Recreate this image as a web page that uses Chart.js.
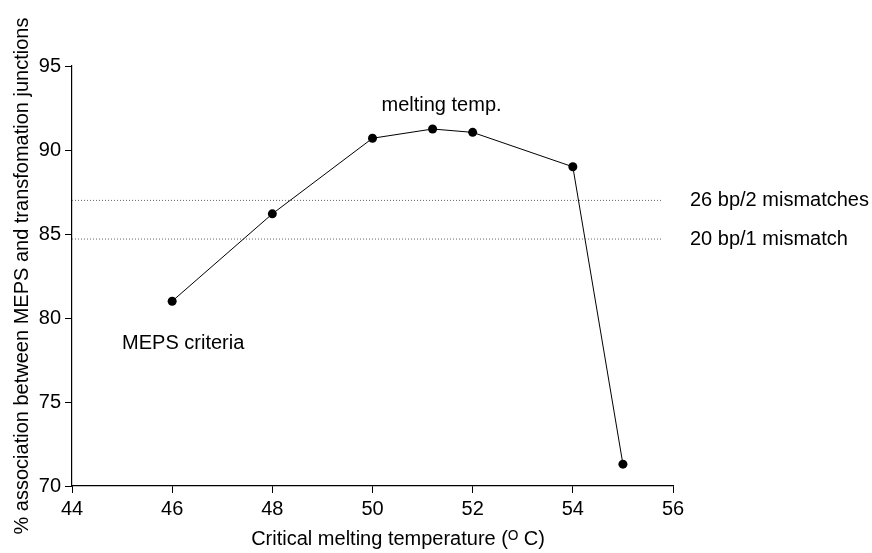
<!DOCTYPE html>
<html>
<head>
<meta charset="utf-8">
<script src="https://cdn.jsdelivr.net/npm/chart.js@4.4.1/dist/chart.umd.min.js"></script>
<style>
  html, body { margin: 0; padding: 0; background: #fff; }
  #wrap { width: 872px; height: 553px; position: relative; }
</style>
</head>
<body>
<div id="wrap"><canvas id="meltChart"></canvas></div>
<script>
// Critical melting temperature (C) vs % association
const temps = [46, 48, 50, 51.2, 52, 54, 55];
const association = [81.0, 86.2, 90.7, 91.25, 91.05, 89.0, 71.3];

// dotted reference levels and their labels
const refLevels = [87.0, 84.7];
const refLabels = ["26 bp/2 mismatches", "20 bp/1 mismatch"];
const refEnd = 55.8;

// tick values
const xTicks = [44, 46, 48, 50, 52, 54, 56];
const yTicks = [70, 75, 80, 85, 90, 95];

const xTitle = "Critical melting temperature (\u1D3C C)";
const yTitle = "% association between MEPS and transfomation junctions";

// free notes: text, x value, y value
const noteTexts = ["melting temp.", "MEPS criteria"];
const noteX = [50.18, 45.0];
const noteY = [92.65, 78.5];

const FONT = '"Liberation Sans", Arial, Helvetica, sans-serif';

const mainSet = {
  data: temps.map((t, i) => ({ x: t, y: association[i] })),
  showLine: true,
  borderColor: "#000",
  borderWidth: 1,
  backgroundColor: "#000",
  pointRadius: 4.5,
  pointBorderWidth: 0,
  tension: 0
};

const refSets = refLevels.map(v => ({
  data: [{ x: xTicks[0], y: v }, { x: refEnd, y: v }],
  showLine: true,
  borderColor: "#666",
  borderWidth: 1,
  borderDash: [1, 2],
  pointRadius: 0
}));

// text drawn on top: notes, reference labels, axis titles
const textPlugin = {
  id: "textNotes",
  afterDraw(chart) {
    const { ctx, chartArea } = chart;
    const x = chart.scales.x, y = chart.scales.y;
    ctx.save();
    ctx.fillStyle = "#000";
    ctx.font = "20px " + FONT;
    ctx.textBaseline = "middle";
    ctx.textAlign = "left";
    noteTexts.forEach((t, i) => {
      ctx.fillText(t, x.getPixelForValue(noteX[i]), y.getPixelForValue(noteY[i]));
    });
    refLevels.forEach((v, i) => {
      ctx.fillText(refLabels[i], chartArea.right + 17, y.getPixelForValue(v));
    });
    ctx.textAlign = "center";
    ctx.fillText(xTitle, 398, 539);
    ctx.translate(22, (chartArea.top + chartArea.bottom) / 2);
    ctx.rotate(-Math.PI / 2);
    ctx.fillText(yTitle, 0, 0);
    ctx.restore();
  }
};

const axisStyle = {
  grid: { display: true, drawOnChartArea: false, drawTicks: true, tickLength: 7, color: "#000" },
  border: { display: true, color: "#000", width: 1.2 },
  ticks: { color: "#000", font: { family: FONT, size: 20 }, padding: 4 }
};

new Chart(document.getElementById("meltChart"), {
  type: "scatter",
  data: { datasets: [mainSet, ...refSets] },
  options: {
    responsive: true,
    maintainAspectRatio: false,
    animation: false,
    layout: { padding: { top: 66, right: 199, left: 0, bottom: 0 } },
    plugins: { legend: { display: false }, tooltip: { enabled: false } },
    scales: {
      x: {
        type: "linear",
        min: xTicks[0],
        max: xTicks[xTicks.length - 1],
        afterBuildTicks: s => { s.ticks = xTicks.map(v => ({ value: v })); },
        afterFit: s => { s.height = 67; },
        ...axisStyle
      },
      y: {
        type: "linear",
        min: yTicks[0],
        max: yTicks[yTicks.length - 1],
        afterBuildTicks: s => { s.ticks = yTicks.map(v => ({ value: v })); },
        afterFit: s => { s.width = 72; },
        ...axisStyle
      }
    }
  },
  plugins: [textPlugin]
});
</script>
</body>
</html>
